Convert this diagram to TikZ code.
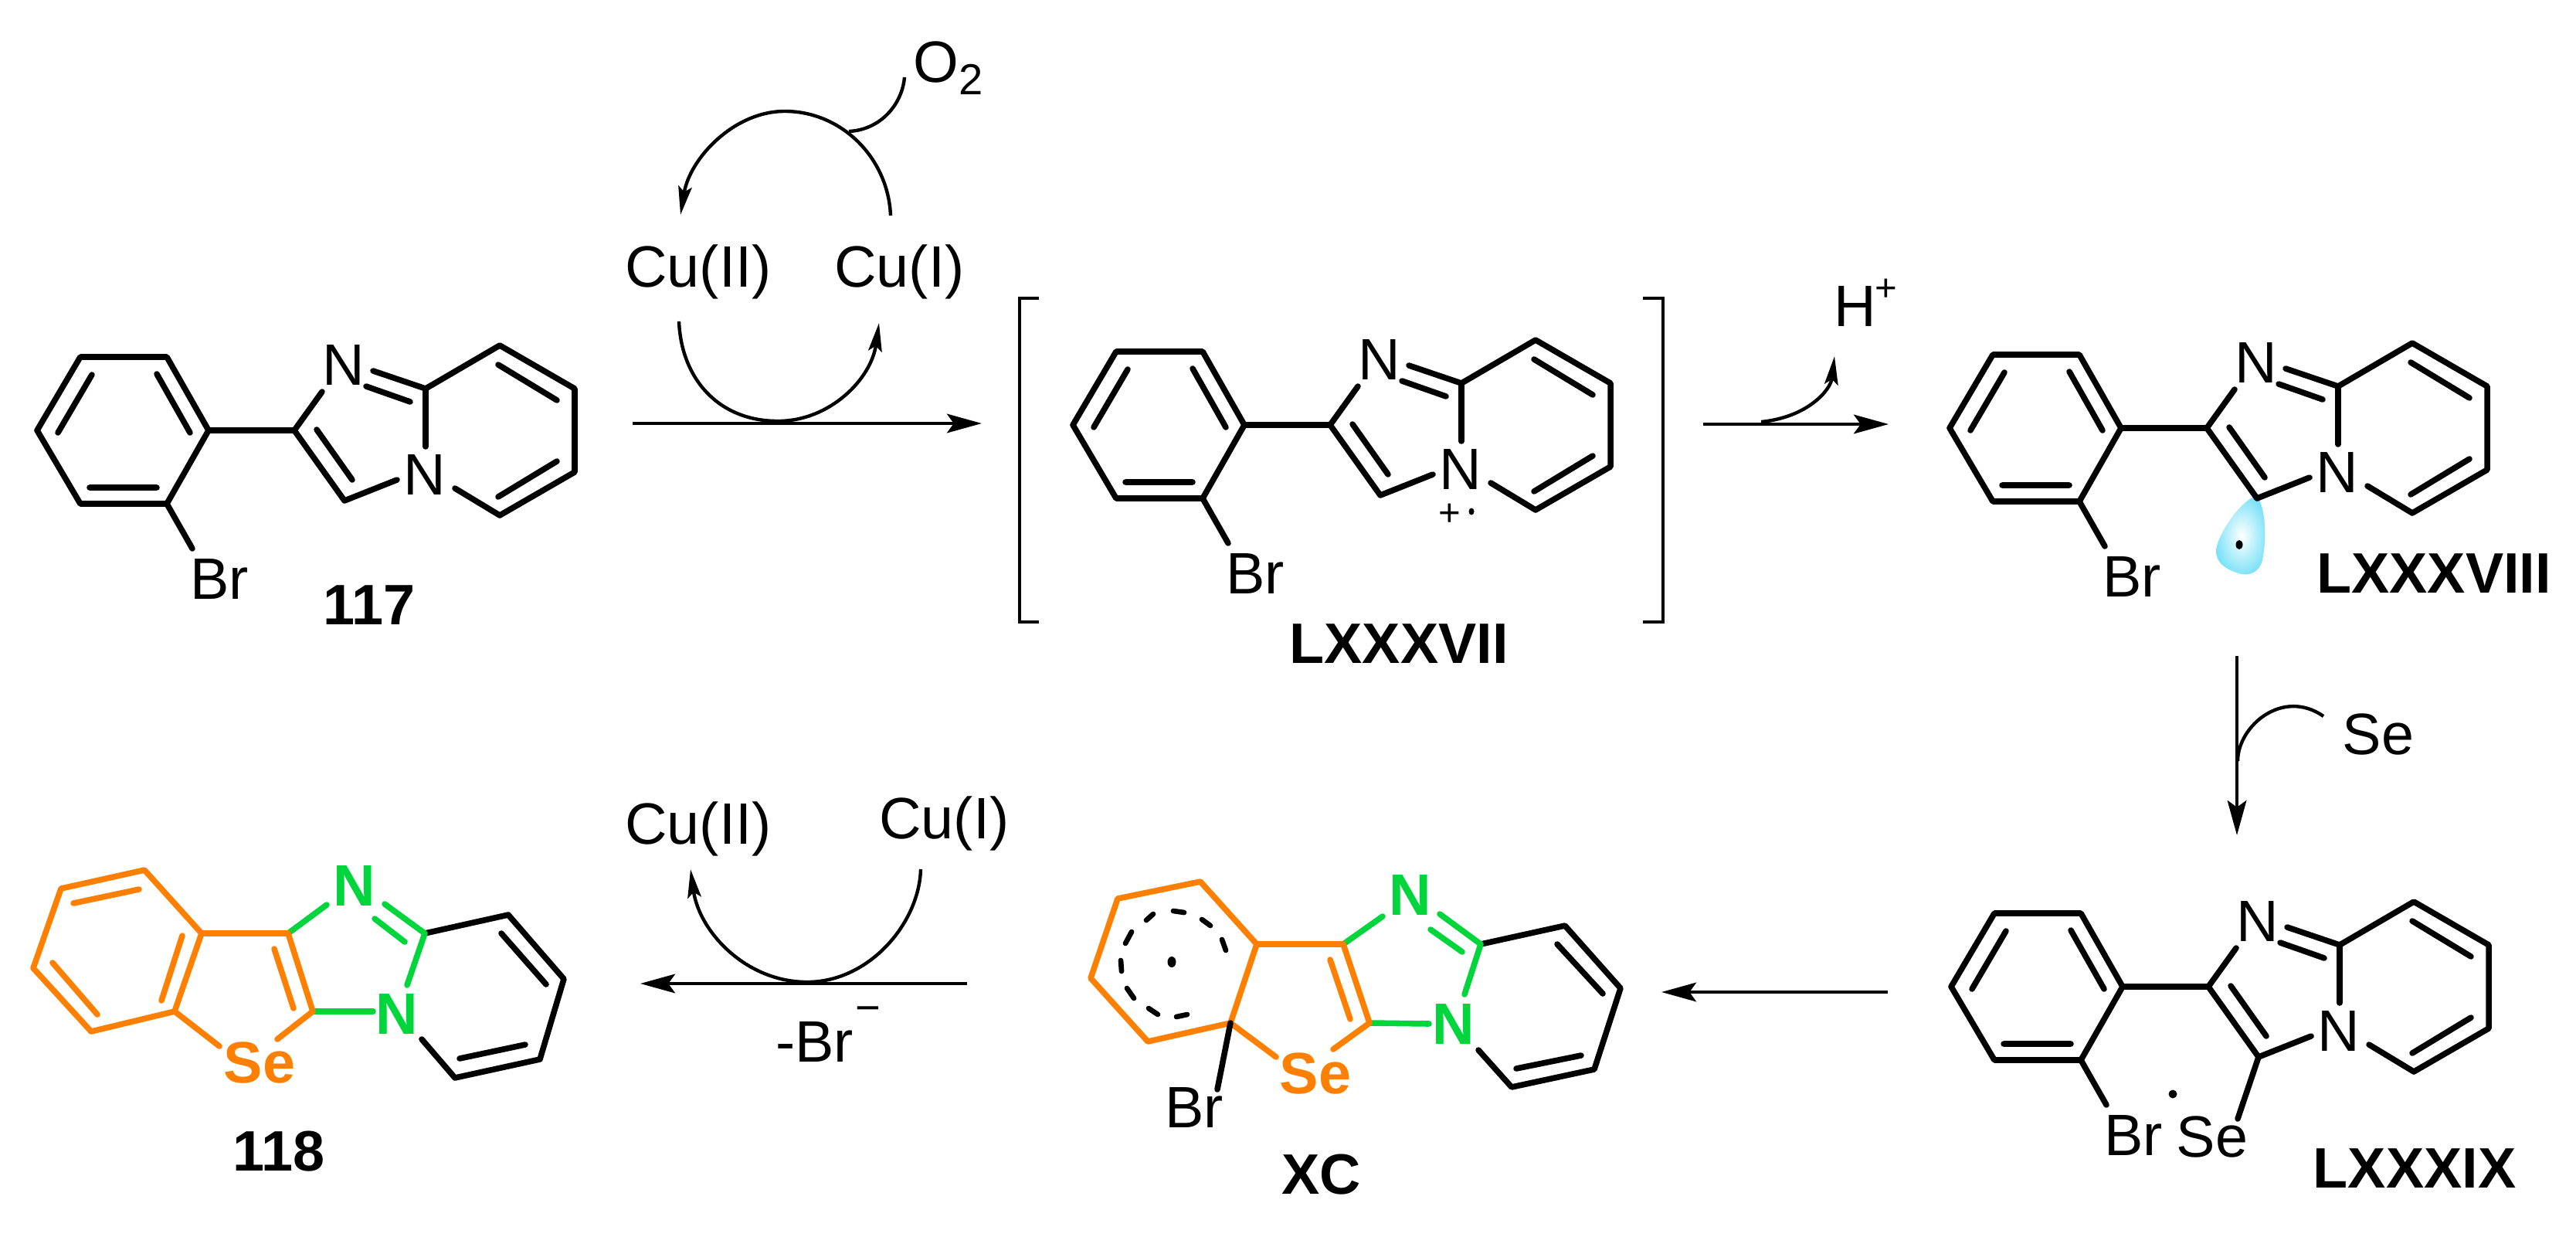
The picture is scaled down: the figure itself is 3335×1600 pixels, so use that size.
\documentclass[tikz,border=0pt]{standalone}
\usepackage{fontspec}
\setmainfont{Liberation Sans}
\usetikzlibrary{arrows.meta}
\definecolor{orgc}{RGB}{255,128,0}
\definecolor{grnc}{RGB}{0,214,60}
\definecolor{lobec}{RGB}{125,226,248}
\newcommand{\atomfont}{\fontsize{43}{50}\selectfont}
\newcommand{\labelfont}{\fontsize{42}{50}\selectfont\bfseries}
\newcommand{\supfont}{\fontsize{28}{32}\selectfont}
\tikzset{
  bond/.style={line width=4.3pt,line cap=round,line join=round},
  bondb/.style={bond,draw=black},
  bondo/.style={bond,draw=orgc},
  bondg/.style={bond,draw=grnc},
  atom/.style={inner sep=0pt,font=\atomfont},
  atomo/.style={inner sep=0pt,font=\atomfont\bfseries,text=orgc},
  atomg/.style={inner sep=0pt,font=\atomfont\bfseries,text=grnc},
  cmpd/.style={inner sep=0pt,font=\labelfont},
  rarrow/.style={line width=2.6pt,-{Stealth[length=25.6pt,width=14pt,inset=5pt]}},
  carrow/.style={line width=2.5pt,-{Stealth[length=21pt,width=10pt,inset=4pt]}},
  cline/.style={line width=2.5pt},
  brk/.style={line width=2.6pt},
  dashb/.style={line width=3.8pt,line cap=round},
}
\newcommand{\ringmol}[1]{%
  \coordinate (#1a) at (104,462);
  \coordinate (#1b) at (216,462);
  \coordinate (#1c) at (270,557);
  \coordinate (#1d) at (216,652);
  \coordinate (#1e) at (104,652);
  \coordinate (#1f) at (48,557);
  \coordinate (#1g) at (381,557);
  \coordinate (#1h) at (446,648);
  \coordinate (#1i) at (551,503);
  \coordinate (#1j) at (647,447);
  \coordinate (#1k) at (744,503);
  \coordinate (#1l) at (744,611);
  \coordinate (#1m) at (647,667);
  \node[atom] (#1N) at (445,472) {N};
  \node[atom] (#1NN) at (550,614) {N};
  \node[atom] (#1Br) at (284,749) {Br};
  \draw[bondb] (#1a)--(#1b)--(#1c)--(#1d)--(#1e)--(#1f)--cycle;
  \draw[bondb] (119,485)--(75,560) (203,484)--(246,560) (116,631)--(203,631);
  \draw[bondb] (#1c)--(#1g);
  \draw[bondb] (417,507)--(#1g)--(#1h)--(514,621);
  \draw[bondb] (410,556)--(456,621);
  \draw[bondb] (483,480)--(#1i) (474,500)--(531,520);
  \draw[bondb] (#1i)--(551,578);
  \draw[bondb] (#1i)--(#1j)--(#1k)--(#1l)--(#1m)--(589,632);
  \draw[bondb] (645,472)--(721,518) (721,597)--(645,643);
  \draw[bondb] (#1d)--(249,710);
}
\begin{document}
\begin{tikzpicture}[x=0.02cm,y=-0.02cm]
\useasboundingbox (0,0) rectangle (3335,1600);

% 117
\ringmol{A}
\node[cmpd] (n117) at (478,783) {117};

% top Cu cycle
\node[atom,anchor=base west] (cu2t) at (809,371) {Cu(II)};
\node[atom,anchor=base west] (cu1t) at (1080,371) {Cu(I)};
\coordinate (r1s) at (819,548);
\coordinate (r1e) at (1271,548);
\draw[rarrow] (r1s)--(r1e);
\coordinate (u1) at (1153,279);
\coordinate (u2) at (1016,144);
\coordinate (u3) at (881,278);
\draw[carrow] (u1) .. controls (1150,205) and (1090,144) .. (u2) .. controls (950,144) and (893,205) .. (u3);
\coordinate (l1) at (879,416);
\coordinate (l2) at (1007,545);
\coordinate (l3) at (1138,418);
\draw[carrow] (l1) .. controls (882,490) and (930,545) .. (l2) .. controls (1075,545) and (1128,490) .. (l3);
\node[atom,anchor=base west] (o2) at (1182,106) {O};
\node[inner sep=0pt,font=\fontsize{32}{36}\selectfont,anchor=base west] (o2s) at (1241,122) {2};
\coordinate (ob1) at (1171,100);
\coordinate (ob2) at (1099,170);
\draw[cline] (ob1) .. controls (1168,135) and (1140,168) .. (ob2);

% LXXXVII
\begin{scope}[shift={(1341,-7)}]
\ringmol{B}
\end{scope}
\node[inner sep=0pt,font=\supfont] (bplus) at (1877,666) {+};
\fill (1905,662) ellipse (3.5 and 4.5);
\node[cmpd] (n87) at (1811,833) {LXXXVII};
\draw[brk] (1345,386)--(1320,386)--(1320,805)--(1345,805);
\draw[brk] (2127,386)--(2153,386)--(2153,805)--(2127,805);

% H+ step
\coordinate (r2s) at (2205,549);
\coordinate (r2e) at (2445,549);
\draw[rarrow] (r2s)--(r2e);
\coordinate (h1) at (2280,546);
\coordinate (h2) at (2375,461);
\draw[carrow] (h1) .. controls (2340,540) and (2370,505) .. (h2);
\node[atom,anchor=base west] (hh) at (2374,422) {H};
\node[inner sep=0pt,font=\supfont] (hp) at (2442,375) {+};

% LXXXVIII
\path[shade,inner color=white,outer color=lobec]
  (2921,642) .. controls (2931,650) and (2936,690) .. (2929,725)
  .. controls (2925,741) and (2912,745) .. (2902,743)
  .. controls (2882,738) and (2868,728) .. (2869,712)
  .. controls (2871,692) and (2900,648) .. (2921,642) -- cycle;
\begin{scope}[shift={(2476,-3)}]
\ringmol{C}
\end{scope}
\fill (2899,705) ellipse (4.5 and 6);
\node[cmpd] (n88) at (3151,742) {LXXXVIII};

% Se step
\coordinate (r3s) at (2896,849);
\coordinate (r3e) at (2896,1081);
\draw[rarrow] (r3s)--(r3e);
\coordinate (s1) at (2897,985);
\coordinate (s2) at (3008,927);
\draw[cline] (s1) .. controls (2897,940) and (2955,890) .. (s2);
\node[atom] (se1) at (3079,950) {Se};

% LXXXIX
\begin{scope}[shift={(2478,720)}]
\ringmol{D}
\end{scope}
\node[atom] (se2) at (2864,1471) {Se};
\draw[bondb] (Dh)--(2897,1448);
\fill (2813,1416) circle (5.5);
\node[cmpd] (n89) at (3126,1512) {LXXXIX};

% arrow to XC
\coordinate (r4s) at (2444,1284);
\coordinate (r4e) at (2151,1284);
\draw[rarrow] (r4s)--(r4e);

% XC
\coordinate (Ea) at (1447,1163);
\coordinate (Eb) at (1554,1141);
\coordinate (Ec) at (1627,1222);
\coordinate (Ed) at (1593,1324);
\coordinate (Ee) at (1486,1348);
\coordinate (Ef) at (1412,1266);
\coordinate (Eg) at (1739,1222);
\coordinate (Eh) at (1773,1324);
\coordinate (Ei) at (1917,1222);
\coordinate (Ej) at (2026,1198);
\coordinate (Ek) at (2098,1279);
\coordinate (El) at (2064,1384);
\coordinate (Em) at (1957,1407);
\node[atomg] (EN) at (1826,1158) {N};
\node[atomg] (ENN) at (1882,1325) {N};
\node[atomo] (ESe) at (1703,1389) {Se};
\node[atom] (EBr) at (1546,1433) {Br};
\node[cmpd] (n90) at (1711,1520) {XC};
\draw[bondb] (Ei)--(Ej)--(Ek)--(El)--(Em)--(1914,1359);
\draw[bondb] (2016,1222)--(2075,1286) (1963,1383)--(2047,1366);
\draw[bondg] (Eg)--(1790,1186);
\draw[bondg] (1864,1183)--(Ei)--(1896,1287);
\draw[bondg] (1852,1203)--(1893,1232);
\draw[bondg] (Eh)--(1850,1325);
\draw[bondo] (Ea)--(Eb)--(Ec)--(Ed)--(Ee)--(Ef)--cycle;
\draw[bondo] (Ec)--(Eg)--(Eh)--(1726,1358);
\draw[bondo] (Ed)--(1652,1368);
\draw[bondo] (1722,1242)--(1748,1319);
\draw[bondb] (Ed)--(1576,1410);
\draw[dashb] (1484,1191)--(1493,1183) (1519,1179)--(1533,1181) (1556,1190)--(1567,1198)
  (1582,1216)--(1587,1230) (1465,1206)--(1457,1221) (1451,1243)--(1452,1257)
  (1459,1279)--(1468,1292) (1487,1305)--(1499,1313) (1523,1316)--(1537,1313);
\fill (1517,1245) ellipse (5.5 and 7);

% bottom Cu cycle
\coordinate (r5s) at (1252,1273);
\coordinate (r5e) at (829,1273);
\draw[rarrow] (r5s)--(r5e);
\node[atom,anchor=base west] (cu2b) at (809,1092) {Cu(II)};
\node[atom,anchor=base west] (cu1b) at (1138,1085) {Cu(I)};
\coordinate (b1) at (1192,1125);
\coordinate (b2) at (1045,1271);
\coordinate (b3) at (894,1125);
\draw[carrow] (b1) .. controls (1190,1195) and (1125,1271) .. (b2) .. controls (965,1271) and (905,1205) .. (b3);
\node[atom,anchor=base west] (brm) at (1004,1374) {-Br};
\node[inner sep=0pt,font=\fontsize{32}{36}\selectfont] (brs) at (1124,1313) {−};

% 118
\coordinate (Fa) at (79,1150);
\coordinate (Fb) at (187,1126);
\coordinate (Fc) at (261,1208);
\coordinate (Fd) at (226,1309);
\coordinate (Fe) at (118,1335);
\coordinate (Ff) at (43,1253);
\coordinate (Fg) at (373,1208);
\coordinate (Fh) at (405,1309);
\coordinate (Fi) at (550,1208);
\coordinate (Fj) at (658,1184);
\coordinate (Fk) at (730,1267);
\coordinate (Fl) at (699,1371);
\coordinate (Fm) at (589,1395);
\node[atomg] (FN) at (459,1146) {N};
\node[atomg] (FNN) at (514,1312) {N};
\node[atomo] (FSe) at (336,1375) {Se};
\node[cmpd] (n118) at (361,1490) {118};
\draw[bondb] (Fi)--(Fj)--(Fk)--(Fl)--(Fm)--(546,1345);
\draw[bondb] (649,1208)--(707,1274) (595,1370)--(680,1352);
\draw[bondg] (Fg)--(423,1171);
\draw[bondg] (498,1170)--(Fi)--(527,1275);
\draw[bondg] (485,1189)--(524,1219);
\draw[bondg] (Fh)--(483,1309);
\draw[bondo] (Fa)--(Fb)--(Fc)--(Fd)--(Fe)--(Ff)--cycle;
\draw[bondo] (Fc)--(Fg)--(Fh)--(359,1345);
\draw[bondo] (Fd)--(284,1354);
\draw[bondo] (95,1169)--(180,1151) (236,1211)--(209,1295) (68,1246)--(126,1313);
\draw[bondo] (355,1228)--(380,1305);
\end{tikzpicture}
\end{document}
